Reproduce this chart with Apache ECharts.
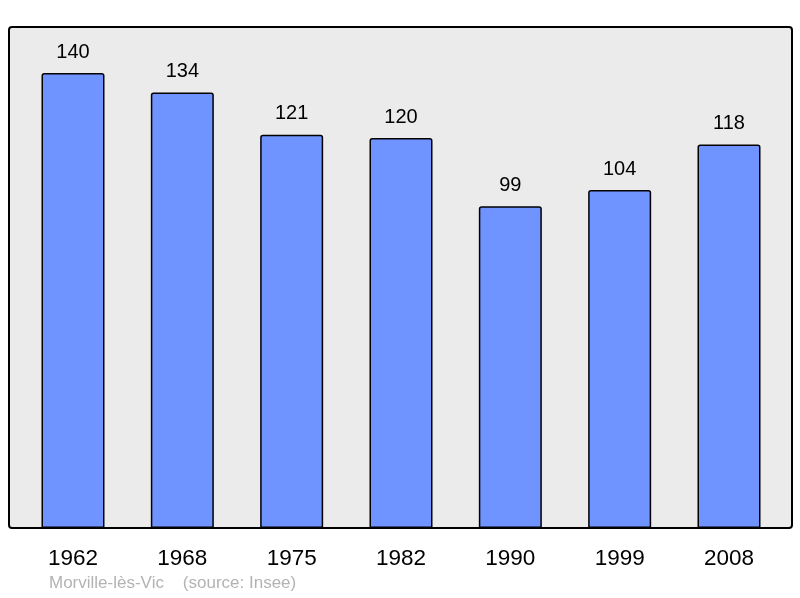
<!DOCTYPE html>
<html>
<head>
<meta charset="utf-8">
<script src="https://cdn.jsdelivr.net/npm/echarts@6/dist/echarts.min.js"></script>
<style>
  html, body { margin: 0; padding: 0; background: #fff; }
  #chart { width: 800px; height: 598px; }
</style>
</head>
<body>
<div id="chart"></div>
<script>
'use strict';

// Population by census year
const years = ['1962', '1968', '1975', '1982', '1990', '1999', '2008'];
const population = [140, 134, 121, 120, 99, 104, 118];
const footerText = 'Morville-lès-Vic    (source: Insee)';

const FONT = '"Liberation Sans", Arial, sans-serif';

const chart = echarts.init(document.getElementById('chart'));

chart.setOption({
  animation: false,
  grid: { left: 18.33, right: 16.33, top: 27, bottom: 70 },
  graphic: [
    {
      type: 'rect',
      z: -10,
      shape: { x: 9, y: 27, width: 783, height: 501, r: 3 },
      style: { fill: '#ebebeb', stroke: '#000', lineWidth: 2 },
    },
    {
      type: 'text',
      left: 49,
      top: 575,
      style: { text: footerText, fill: '#b3b3b3', font: '17px ' + FONT },
    },
  ],
  xAxis: {
    type: 'category',
    data: years,
    axisLine: { show: false },
    axisTick: { show: false },
    axisLabel: {
      margin: 19,
      color: '#000',
      fontSize: 22.5,
      fontFamily: FONT,
    },
  },
  yAxis: {
    type: 'value',
    min: 0,
    max: 154.15,
    show: false,
    splitLine: { show: false },
  },
  series: [
    {
      type: 'bar',
      data: population,
      barWidth: 63,
      itemStyle: {
        color: '#7094ff',
        borderColor: '#000',
        borderWidth: 1.5,
        borderRadius: [2, 2, 0, 0],
      },
      label: {
        show: true,
        position: 'top',
        distance: 11,
        color: '#000',
        fontSize: 20,
        fontFamily: FONT,
      },
    },
  ],
});
</script>
</body>
</html>
